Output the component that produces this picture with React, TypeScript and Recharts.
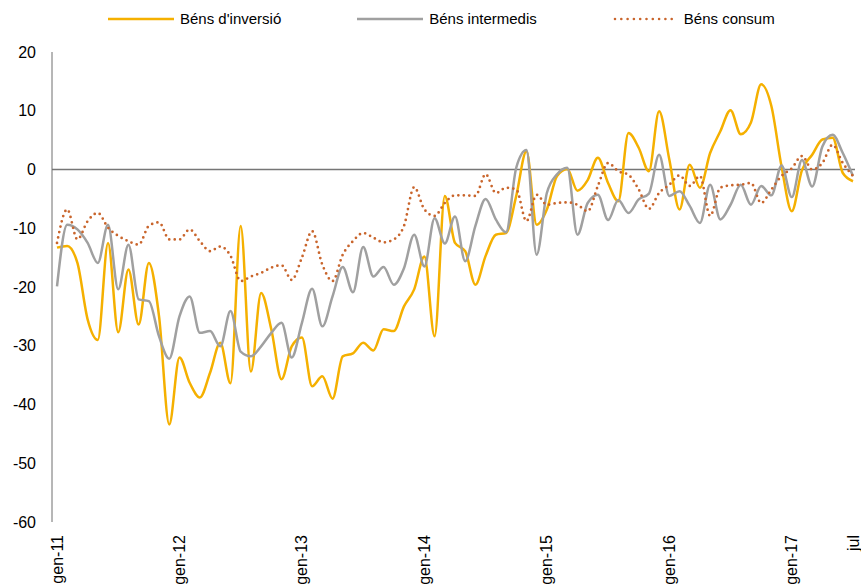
import { LineChart, Line, XAxis, YAxis, ReferenceLine, Legend } from 'recharts';

// Monthly series, gen-11 .. jul-17 (79 months)
const MONTH_NAMES = ['gen', 'febr', 'març', 'abr', 'maig', 'juny', 'jul', 'ag', 'set', 'oct', 'nov', 'des'];
const YEARS = [11, 12, 13, 14, 15, 16, 17];

const INVERSIO = [
  -13.3, -13.0, -15.9, -25.5, -29.0, -12.5, -27.7, -17.0, -26.4, -15.9, -25.0, -43.4,
  -32.0, -36.3, -38.8, -34.6, -29.5, -36.4, -9.6, -34.4, -21.0, -27.2, -35.7, -30.1,
  -28.6, -36.9, -35.2, -39.0, -31.8, -31.3, -29.5, -30.8, -27.2, -27.5, -23.3, -20.4,
  -14.8, -28.4, -4.5, -12.5, -13.9, -19.6, -14.7, -11.1, -10.8, -4.5, 3.1, -9.4,
  -6.8, -1.1, 0.1, -3.6, -1.8, 2.0, -2.3, -5.4, 6.2, 3.7, -0.3, 9.9,
  1.7, -6.8, 0.8, -3.1, 2.8, 6.5, 10.1, 6.0, 8.0, 14.5, 10.8, 0.5,
  -7.1, -0.1, 2.5, 5.1, 5.4, -0.6, -2.0,
];

const INTERMEDIS = [
  -19.9, -9.4, -10.2, -12.5, -15.9, -9.4, -20.4, -12.8, -22.1, -22.4, -28.4, -32.2,
  -25.0, -21.6, -27.8, -27.5, -30.1, -24.1, -31.0, -31.8, -30.1, -27.8, -26.1, -32.0,
  -26.1, -20.3, -26.7, -21.6, -16.6, -20.9, -13.2, -18.2, -16.6, -19.6, -16.8, -11.1,
  -16.5, -8.3, -12.6, -8.0, -15.6, -9.6, -5.0, -8.5, -10.7, 0.3, 3.3, -14.5,
  -4.0, -0.8, 0.3, -11.1, -5.7, -4.3, -8.6, -5.2, -7.4, -5.1, -4.1, 2.5,
  -4.5, -3.7, -6.2, -9.1, -2.6, -8.5, -6.0, -2.6, -6.0, -2.8, -4.4, 0.7,
  -4.7, 1.6, -2.9, 3.9, 5.9, 2.8, -1.1,
];

const CONSUM = [
  -12.5, -6.8, -11.9, -8.8, -7.4, -9.9, -11.3, -12.2, -12.8, -9.6, -9.0, -11.9,
  -11.9, -10.2, -12.2, -13.9, -13.1, -14.7, -19.0, -18.2, -17.6, -16.7, -16.3, -18.8,
  -15.0, -10.5, -16.2, -19.0, -14.5, -12.2, -10.8, -11.6, -12.4, -11.9, -9.6, -3.0,
  -6.8, -7.9, -5.7, -4.4, -4.4, -4.5, -0.8, -4.0, -3.1, -3.4, -8.8, -4.3,
  -6.0, -5.7, -5.6, -6.0, -7.1, -2.8, 1.1, -0.3, -0.9, -3.4, -6.7, -4.0,
  -2.6, -1.0, -2.8, -1.1, -7.9, -3.1, -2.7, -2.6, -2.3, -5.7, -3.4, -1.1,
  0.2, 2.3, 0.0, 1.1, 4.2, 1.1, -1.1,
];

const Y_TICKS = [-60, -50, -40, -30, -20, -10, 0, 10, 20];
const X_TICKS = ['gen-11', 'gen-12', 'gen-13', 'gen-14', 'gen-15', 'gen-16', 'gen-17', 'jul-17'];
const X_TICK_LABELS = ['gen-11', 'gen-12', 'gen-13', 'gen-14', 'gen-15', 'gen-16', 'gen-17', 'jul'];

const SERIES = [
  { key: 'inversio', name: "Béns d'inversió", color: '#F5B000', dotted: false },
  { key: 'intermedis', name: 'Béns intermedis', color: '#A0A0A0', dotted: false },
  { key: 'consum', name: 'Béns consum', color: '#C9652C', dotted: true },
];

const months = YEARS.flatMap((y) => MONTH_NAMES.map((m) => `${m}-${y}`)).slice(0, INVERSIO.length);

const data = months.map((month, i) => ({
  month,
  inversio: INVERSIO[i],
  intermedis: INTERMEDIS[i],
  consum: CONSUM[i],
}));

const FONT = '"Liberation Sans", Arial, sans-serif';

const MonthTick = (props: any) => {
  const { x, y, payload } = props;
  const idx = X_TICKS.indexOf(payload.value);
  const label = idx >= 0 ? X_TICK_LABELS[idx] : payload.value;
  return (
    <text
      transform={`translate(${x},${y + 5}) rotate(-90)`}
      textAnchor="end"
      dominantBaseline="central"
      fontSize={16}
      fontFamily={FONT}
      fill="#000"
    >
      {label}
    </text>
  );
};

const LegendContent = () => (
  <div style={{ display: 'flex', alignItems: 'center', paddingLeft: 108, fontFamily: FONT, fontSize: 15, color: '#000' }}>
    {SERIES.map((s, i) => (
      <div key={s.key} style={{ display: 'flex', alignItems: 'center', marginLeft: i === 0 ? 0 : [0, 76, 75][i] }}>
        <svg width={66} height={6} style={{ marginRight: 6 }}>
          <line
            x1={s.dotted ? 3 : 0}
            x2={s.dotted ? 63 : 66}
            y1={3}
            y2={3}
            stroke={s.color}
            strokeWidth={s.dotted ? 2.6 : 2.5}
            strokeDasharray={s.dotted ? '0 6.3' : undefined}
            strokeLinecap={s.dotted ? 'round' : 'butt'}
          />
        </svg>
        <span>{s.name}</span>
      </div>
    ))}
  </div>
);

export default function App() {
  return (
    <div style={{ position: 'absolute', left: 0, top: 0, width: 861, height: 587, background: '#fff', overflow: 'hidden' }}>
      <LineChart width={861} height={587} data={data} margin={{ top: 22, right: 6, bottom: 0, left: 8 }}>
        <Legend verticalAlign="top" align="left" height={30} content={<LegendContent />} wrapperStyle={{ top: 10, left: 0 }} />
        <XAxis
          dataKey="month"
          ticks={X_TICKS}
          interval={0}
          tick={<MonthTick />}
          axisLine={false}
          tickLine={false}
          height={65}
          padding={{ left: 5, right: 2 }}
        />
        <YAxis
          domain={[-60, 20]}
          ticks={Y_TICKS}
          interval={0}
          width={44}
          tickLine={false}
          tickMargin={10}
          axisLine={{ stroke: '#6e6e6e', strokeWidth: 1 }}
          tick={{ fill: '#000', fontSize: 16, fontFamily: FONT }}
        />
        <ReferenceLine y={0} stroke="#767676" strokeWidth={1.5} />
        {SERIES.map((s) => (
          <Line
            key={s.key}
            type="monotone"
            dataKey={s.key}
            name={s.name}
            stroke={s.color}
            strokeWidth={s.dotted ? 2.75 : 2.5}
            strokeDasharray={s.dotted ? '0 5.5' : undefined}
            strokeLinecap={s.dotted ? 'round' : 'butt'}
            dot={false}
            activeDot={false}
            isAnimationActive={false}
          />
        ))}
      </LineChart>
    </div>
  );
}
